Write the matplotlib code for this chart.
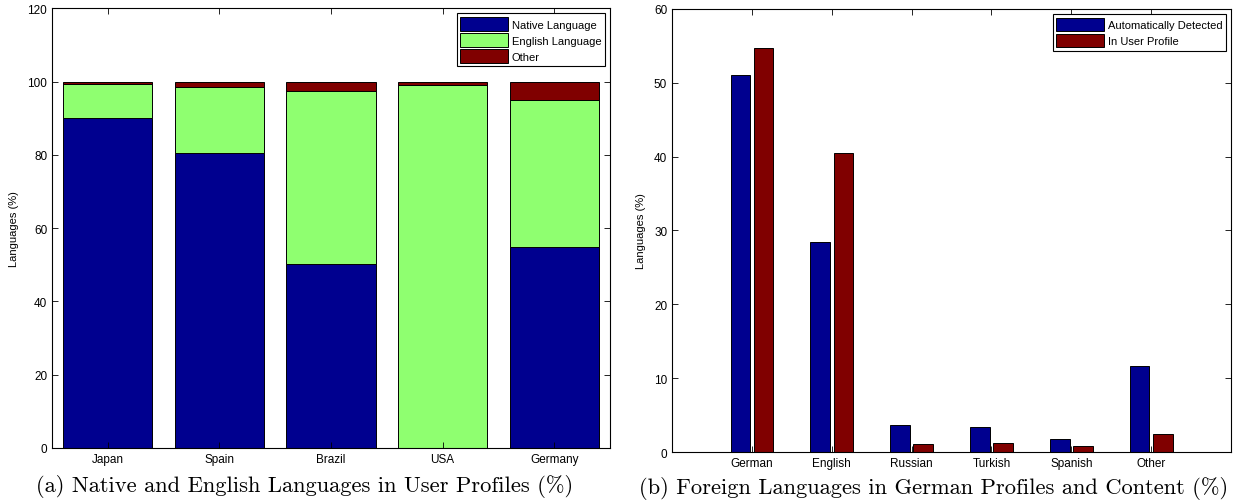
import numpy as np
import matplotlib.pyplot as plt

# left panel: share of languages in user profiles, per country
countries = ['Japan', 'Spain', 'Brazil', 'USA', 'Germany']
native_pct = [90.0, 80.5, 50.3, 0.0, 55.0]
english_pct = [9.5, 18.0, 47.3, 99.0, 40.0]
other_pct = [0.5, 1.5, 2.4, 1.0, 5.0]

# right panel: foreign languages in german profiles/content
languages = ['German', 'English', 'Russian', 'Turkish', 'Spanish', 'Other']
detected_pct = [51.0, 28.5, 3.7, 3.4, 1.7, 11.7]
profile_pct = [54.7, 40.5, 1.1, 1.2, 0.8, 2.4]

NAVY = '#00008F'
GREEN = '#8FFF70'
DARKRED = '#800000'

plt.rcParams['font.family'] = ['Liberation Sans', 'DejaVu Sans']

fig = plt.figure(figsize=(12.39, 5.02), dpi=100)
ax1 = fig.add_axes([0.0420, 0.1056, 0.4504, 0.8755])
ax2 = fig.add_axes([0.5424, 0.0976, 0.4512, 0.8825])


def matlab_axes(ax):
    ax.tick_params(direction='in', top=True, right=True, labelsize=8.5,
                   length=4, width=0.6)
    for s in ax.spines.values():
        s.set_linewidth(0.8)


def matlab_legend(ax):
    leg = ax.legend(loc='upper right', fontsize=8, fancybox=False, framealpha=1,
                    edgecolor='black', handlelength=4.3, handleheight=1.45,
                    handletextpad=0.3, borderaxespad=0.45, labelspacing=0.25,
                    borderpad=0.35)
    leg.get_frame().set_linewidth(0.8)
    return leg


# stacked bars
x = np.arange(1, len(countries) + 1)
native = np.array(native_pct)
english = np.array(english_pct)
other = np.array(other_pct)
ax1.bar(x, native, 0.8, color=NAVY, edgecolor='black', lw=0.7, label='Native Language')
ax1.bar(x, english, 0.8, bottom=native, color=GREEN, edgecolor='black', lw=0.7,
        label='English Language')
ax1.bar(x, other, 0.8, bottom=native + english, color=DARKRED, edgecolor='black', lw=0.7,
        label='Other')
ax1.set_xlim(0.5, 5.5)
ax1.set_ylim(0, 120)
ax1.set_yticks(range(0, 121, 20))
ax1.set_xticks(x)
ax1.set_xticklabels(countries)
ax1.set_ylabel('Languages (%)', fontsize=8, labelpad=6)
matlab_axes(ax1)
matlab_legend(ax1)

# grouped bars
x2 = np.arange(1, len(languages) + 1)
ax2.bar(x2 - 0.145, detected_pct, 0.245, color=NAVY, edgecolor='black', lw=0.7,
        label='Automatically Detected')
ax2.bar(x2 + 0.145, profile_pct, 0.245, color=DARKRED, edgecolor='black', lw=0.7,
        label='In User Profile')
ax2.set_xlim(0, 7)
ax2.set_ylim(0, 60)
ax2.set_yticks(range(0, 61, 10))
ax2.set_xticks(x2)
ax2.set_xticklabels(languages)
ax2.set_ylabel('Languages (%)', fontsize=8, labelpad=6)
matlab_axes(ax2)
matlab_legend(ax2)

# captions under each panel
fig.text(0.2458, 0.03, '(a) Native and English Languages in User Profiles (%)',
         ha='center', va='center', fontsize=16.2, family='cmr10')
fig.text(0.7538, 0.026, '(b) Foreign Languages in German Profiles and Content (%)',
         ha='center', va='center', fontsize=16.2, family='cmr10')

fig.savefig('out.png', dpi=100)
